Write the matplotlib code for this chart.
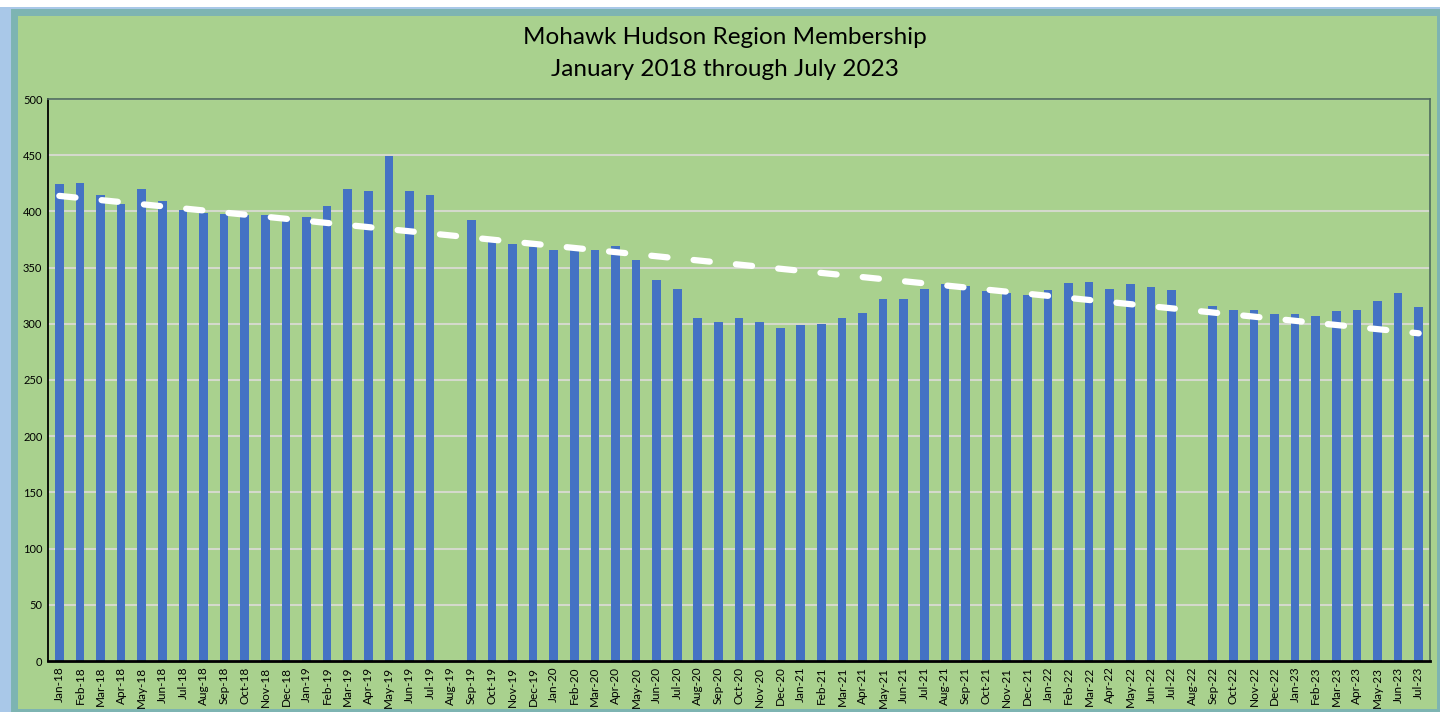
import numpy as np
import matplotlib.pyplot as plt
from matplotlib.patches import Rectangle

plt.rcParams['font.family'] = ['Lato', 'DejaVu Sans']

# month labels Jan-18 .. Jul-23
months = ['Jan', 'Feb', 'Mar', 'Apr', 'May', 'Jun', 'Jul', 'Aug', 'Sep', 'Oct', 'Nov', 'Dec']
labels = [m + '-' + str(y) for y in range(18, 24) for m in months][:67]

# membership counts (Aug-19 and Aug-22 missing)
members = [424, 425, 415, 407, 420, 409, 401, 399, 398, 397, 397, 392,
           395, 405, 420, 418, 449, 418, 415, np.nan, 392, 376, 371, 368,
           366, 368, 366, 369, 357, 339, 331, 305, 302, 305, 302, 296,
           299, 300, 305, 310, 322, 322, 331, 335, 334, 329, 327, 326,
           330, 336, 337, 331, 335, 333, 330, np.nan, 316, 312, 312, 309,
           309, 307, 311, 312, 320, 327, 315]

yticks = [0, 50, 100, 150, 200, 250, 300, 350, 400, 450, 500]

x = np.arange(len(labels))
y = np.array(members, dtype=float)
ok = ~np.isnan(y)
slope, icpt = np.polyfit(x[ok], y[ok], 1)

W, H = 1440, 712
fig = plt.figure(figsize=(W / 100, H / 100), dpi=100)
fig.patch.set_facecolor('#A9C8E8')
# green chart area with teal frame (screenshot border)
fig.patches.append(Rectangle((14 / W, 0), 1 - 14 / W, 1 - 12 / H, transform=fig.transFigure,
                             facecolor='#A9D18E', edgecolor='#7DB4B2', lw=5, zorder=-10))
fig.patches.append(Rectangle((0, 1 - 7 / H), 1, 7 / H, transform=fig.transFigure,
                             facecolor='white', edgecolor='none', zorder=-10))

ax = fig.add_axes([48 / W, 1 - 661 / H, (1430 - 48) / W, (661 - 99) / H])
ax.set_facecolor('#A9D18E')

ax.bar(x, y, width=0.42, color='#4472C4', zorder=2)
ax.plot(x, icpt + slope * x, color='white', lw=4.5, solid_capstyle='round',
        dash_capstyle='round', dashes=(2.6, 4.2), zorder=3)

ax.set_ylim(0, 500)
ax.set_xlim(-0.55, len(labels) - 0.45)
ax.set_yticks(yticks)
ax.set_yticklabels([str(t) for t in yticks], fontsize=8)
ax.set_xticks(x)
ax.set_xticklabels(labels, rotation=90, fontsize=8.5)
ax.tick_params(length=0, pad=4)
ax.yaxis.grid(True, color='#D4D9CC', lw=1.5, zorder=1)
ax.set_axisbelow(True)

for s in ['top', 'right']:
    ax.spines[s].set_color('#4E6B5E')
    ax.spines[s].set_linewidth(1.2)
ax.spines['left'].set_color('black')
ax.spines['left'].set_linewidth(1.3)
ax.spines['bottom'].set_color('black')
ax.spines['bottom'].set_linewidth(2)

fig.text(725 / W, 1 - 37 / H, 'Mohawk Hudson Region Membership', ha='center', va='center', fontsize=17.5)
fig.text(725 / W, 1 - 69 / H, 'January 2018 through July 2023', ha='center', va='center', fontsize=17.5)

fig.savefig('out.png', dpi=100, facecolor=fig.get_facecolor())
